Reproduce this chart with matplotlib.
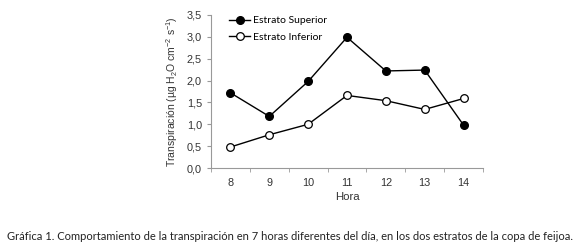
import matplotlib
matplotlib.use("Agg")
import matplotlib.pyplot as plt

horas = [8, 9, 10, 11, 12, 13, 14]
superior = [1.72, 1.18, 1.98, 2.99, 2.22, 2.24, 0.98]
inferior = [0.48, 0.76, 1.00, 1.66, 1.54, 1.34, 1.59]
yticks = [0.0, 0.5, 1.0, 1.5, 2.0, 2.5, 3.0, 3.5]

plt.rcParams['font.family'] = ['Liberation Sans', 'DejaVu Sans']
plt.rcParams['mathtext.fontset'] = 'custom'
plt.rcParams['mathtext.rm'] = 'Liberation Sans'
plt.rcParams['mathtext.it'] = 'Liberation Sans:italic'

fig = plt.figure(figsize=(5.8, 2.46), dpi=100)
ax = fig.add_axes([211 / 580, 1 - 168 / 246, 272 / 580, 153 / 246])

x = list(range(len(horas)))
ax.plot(x, superior, color='black', lw=1, marker='o', ms=5.5,
        mfc='black', mec='black', label='Estrato Superior')
ax.plot(x, inferior, color='black', lw=1, marker='o', ms=5.5,
        mfc='white', mec='black', mew=0.9, label='Estrato Inferior')

ax.set_xlim(-0.5, len(horas) - 0.5)
ax.set_ylim(0, 3.5)
ax.set_yticks(yticks)
ax.set_yticklabels([f"{v:.1f}".replace('.', ',') for v in yticks])
ax.set_xticks(x)
ax.set_xticklabels([str(h) for h in horas])
ax.set_xticks([i - 0.5 for i in range(len(horas) + 1)], minor=True)
ax.tick_params(axis='x', which='major', length=0, labelsize=7.8, pad=7, colors='#333333')
ax.tick_params(axis='x', which='minor', length=3, color='#999999', direction='out')
ax.tick_params(axis='y', length=3, labelsize=7.8, colors='#333333', color='#999999')

for s in ['top', 'right']:
    ax.spines[s].set_visible(False)
for s in ['left', 'bottom']:
    ax.spines[s].set_color('#999999')
    ax.spines[s].set_linewidth(0.8)

ax.set_xlabel('Hora', fontsize=8.2, color='#333333', labelpad=3)
ax.set_ylabel(r'Transpiración (µg H$_\mathrm{2}$O cm$^\mathrm{-2}$ s$^\mathrm{-1}$)',
              fontsize=7.5, color='#333333', labelpad=5)

leg = fig.legend(loc='upper left', bbox_to_anchor=(225 / 580, 1 - 12 / 246),
                 frameon=False, prop={'family': 'Lato', 'size': 7.5},
                 handlelength=2.0, handletextpad=0.25, labelspacing=0.65,
                 borderaxespad=0)

fig.text(0.5, 1 - 236 / 246,
         'Gráfica 1. Comportamiento de la transpiración en 7 horas diferentes del día, '
         'en los dos estratos de la copa de feijoa.',
         ha='center', va='center', fontsize=8.05, family='Lato', color='#222222')

fig.savefig('out.png', dpi=100)
